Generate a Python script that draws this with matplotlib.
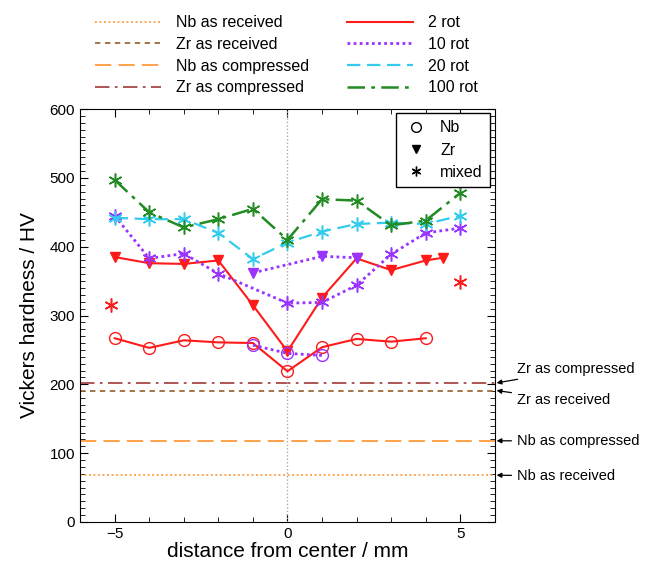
import matplotlib.pyplot as plt
import numpy as np
from matplotlib.lines import Line2D
from matplotlib.ticker import MultipleLocator

plt.rcParams['font.family'] = ['Liberation Sans', 'DejaVu Sans']

# reference levels (HV)
ref_names = ["Nb as received", "Zr as received", "Nb as compressed", "Zr as compressed"]
ref_values = [68, 191, 118, 202]

# 2 rot
x_nb_2 = [-5, -4, -3, -2, -1, 0, 1, 2, 3, 4]
y_nb_2 = [267, 253, 264, 261, 260, 219, 254, 266, 262, 267]
x_zr_2 = [-5, -4, -3, -2, -1, 0, 1, 2, 3, 4, 4.5]
y_zr_2 = [385, 376, 375, 380, 315, 248, 326, 383, 366, 380, 384]
x_mx_2 = [-5.1, 5]
y_mx_2 = [316, 349]

# 10 rot
x_nb_10 = [-1, 0, 1]
y_nb_10 = [257, 245, 242]
x_zr_10 = [-1, 1, 2]
y_zr_10 = [362, 386, 384]
x_mx_10 = [-5, -4, -3, -2, 0, 1, 2, 3, 4, 5]
y_mx_10 = [445, 383, 390, 361, 318, 319, 344, 389, 420, 427]

# 20 rot
x_mx_20 = [-5, -4, -3, -2, -1, 0, 1, 2, 3, 4, 5]
y_mx_20 = [442, 440, 440, 420, 382, 406, 422, 433, 435, 433, 445]

# 100 rot
x_mx_100 = [-5, -4, -3, -2, -1, 0, 1, 2, 3, 4, 5]
y_mx_100 = [497, 450, 428, 440, 455, 410, 469, 467, 431, 438, 478]

ref_styles = [
    dict(color="#ff9a3c", ls=(0, (1, 1.5)), lw=1.3),
    dict(color="#9c6a3a", ls=(0, (3, 2.5)), lw=1.3),
    dict(color="#ff9a3c", ls=(0, (9, 4)), lw=1.3),
    dict(color="#a84848", ls=(0, (8, 3, 1.5, 3)), lw=1.3),
]
rot_names = ["2 rot", "10 rot", "20 rot", "100 rot"]
rot_styles = [
    dict(color="#ff1a1a", ls="-", lw=1.5),
    dict(color="#9933ff", ls=(0, (1, 1.2)), lw=2.0),
    dict(color="#33ccee", ls=(0, (6, 3)), lw=1.6),
    dict(color="#228b22", ls=(0, (7, 2.5, 1.5, 2.5)), lw=1.8),
]
ast = (6, 2, 0)

fig = plt.figure(figsize=(6.46, 5.68), dpi=100)
ax = fig.add_axes([0.124, 0.081, 0.642, 0.727])

for v, st in zip(ref_values, ref_styles):
    ax.axhline(v, **st)
ax.axvline(0, color="#aaaaaa", ls=(0, (1, 1.5)), lw=1.0)

c, ls, lw = rot_styles[0]["color"], rot_styles[0]["ls"], rot_styles[0]["lw"]
ax.plot(x_nb_2, y_nb_2, color=c, ls=ls, lw=lw, marker="o", mfc="none", ms=8.5)
ax.plot(x_zr_2, y_zr_2, color=c, ls=ls, lw=lw, marker="v", ms=7.5)
ax.plot(x_mx_2, y_mx_2, color=c, ls="none", marker=ast, ms=10, mew=1.1)

c, ls, lw = rot_styles[1]["color"], rot_styles[1]["ls"], rot_styles[1]["lw"]
ax.plot(x_nb_10, y_nb_10, color=c, ls=ls, lw=lw, marker="o", mfc="none", ms=8.5)
ax.plot(x_zr_10, y_zr_10, color=c, ls=ls, lw=lw, marker="v", ms=7.5)
ax.plot(x_mx_10, y_mx_10, color=c, ls=ls, lw=lw, marker=ast, ms=10, mew=1.1)

c, ls, lw = rot_styles[2]["color"], rot_styles[2]["ls"], rot_styles[2]["lw"]
ax.plot(x_mx_20, y_mx_20, color=c, ls=ls, lw=lw, marker=ast, ms=10, mew=1.1)

c, ls, lw = rot_styles[3]["color"], rot_styles[3]["ls"], rot_styles[3]["lw"]
ax.plot(x_mx_100, y_mx_100, color=c, ls=ls, lw=lw, marker=ast, ms=10, mew=1.1)

ax.set_xlim(-6, 6)
ax.set_ylim(0, 600)
ax.xaxis.set_major_locator(MultipleLocator(5))
ax.xaxis.set_minor_locator(MultipleLocator(1))
ax.yaxis.set_major_locator(MultipleLocator(100))
ax.yaxis.set_minor_locator(MultipleLocator(10))
ax.tick_params(which="both", direction="in", top=True, right=True, labelsize=11)
ax.tick_params(which="major", length=6)
ax.tick_params(which="minor", length=3.5)
ax.set_xlabel("distance from center / mm", fontsize=15, labelpad=1)
ax.set_ylabel("Vickers hardness / HV", fontsize=15, labelpad=8)

# marker legend inside
mk = [
    Line2D([], [], color="k", ls="none", marker="o", mfc="none", ms=7),
    Line2D([], [], color="k", ls="none", marker="v", ms=6),
    Line2D([], [], color="k", ls="none", marker=ast, ms=7),
]
ax.legend(mk, ["Nb", "Zr", "mixed"], loc="upper right", bbox_to_anchor=(0.988, 0.99),
          borderaxespad=0, fontsize=11.5, fancybox=False, edgecolor="k", framealpha=1,
          handletextpad=0.7, borderpad=0.45, labelspacing=0.45, handlelength=1.6)

# line legend on top
hs = [Line2D([], [], **st) for st in ref_styles] + [Line2D([], [], **st) for st in rot_styles]
fig.legend(hs, ref_names + rot_names, ncol=2, loc="upper left", bbox_to_anchor=(0.13, 0.993),
           frameon=False, fontsize=11.5, handlelength=4.1, columnspacing=2.4,
           labelspacing=0.42, handletextpad=0.95, borderaxespad=0.3)

# arrows to reference lines
ann = [
    ("Zr as compressed", 202, 199),
    ("Zr as received", 191, 168),
    ("Nb as compressed", 118, 127),
    ("Nb as received", 68, 92),
]
for txt, v, ty in ann:
    ax.annotate(txt, xy=(6.05, v), xycoords="data", xytext=(517, ty), textcoords="figure pixels",
                ha="left", va="center", fontsize=10.5, annotation_clip=False,
                arrowprops=dict(arrowstyle="-|>", color="k", lw=0.9, mutation_scale=7,
                                shrinkA=2, shrinkB=0))

fig.savefig("out.png", dpi=100)
